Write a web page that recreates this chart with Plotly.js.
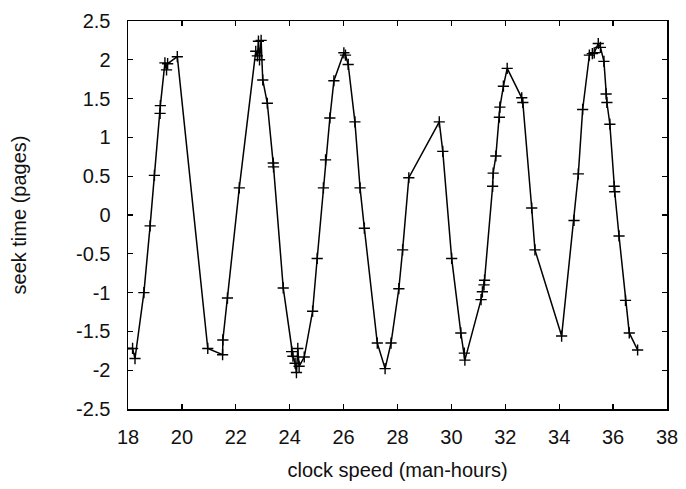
<!DOCTYPE html>
<html>
<head>
<meta charset="utf-8">
<script src="https://cdn.plot.ly/plotly-3.0.1.min.js"></script>
<style>html,body{margin:0;padding:0;background:#fff}#chart{width:686px;height:489px}</style>
</head>
<body>
<div id="chart"></div>
<script>
const xValues = [17.97, 18.17, 18.26, 18.59, 18.82, 18.98, 19.19, 19.2, 19.37, 19.43, 19.47, 19.83,
  20.96, 21.51, 21.52, 21.69, 22.13, 22.74, 22.80, 22.84, 22.88, 22.94, 23.0, 23.17, 23.39, 23.40,
  23.76, 24.07, 24.12, 24.20, 24.25, 24.30, 24.35, 24.54, 24.85, 25.02, 25.25, 25.33, 25.49, 25.64,
  26.01, 26.07, 26.17, 26.42, 26.61, 26.77, 27.25, 27.54, 27.76, 28.05, 28.19, 28.42, 29.55, 29.68,
  30.01, 30.35, 30.48, 30.50, 31.10, 31.15, 31.21, 31.23, 31.53, 31.55, 31.65, 31.78, 31.80, 31.93,
  32.07, 32.61, 32.65, 32.98, 33.10, 34.09, 34.55, 34.71, 34.87, 35.12, 35.23, 35.30, 35.45, 35.53,
  35.66, 35.74, 35.77, 35.88, 36.04, 36.06, 36.22, 36.46, 36.60, 36.91];
const yValues = [-1.72, -1.72, -1.85, -1.0, -0.14, 0.51, 1.31, 1.41, 1.96, 1.87, 1.95, 2.04,
  -1.72, -1.80, -1.61, -1.07, 0.35, 2.11, 2.05, 2.24, 2.0, 2.25, 1.74, 1.44, 0.67, 0.62,
  -0.94, -1.76, -1.82, -1.91, -2.03, -1.72, -1.95, -1.83, -1.24, -0.56, 0.35, 0.71, 1.25, 1.73,
  2.09, 2.06, 1.94, 1.20, 0.35, -0.17, -1.65, -1.98, -1.65, -0.95, -0.45, 0.48, 1.20, 0.82,
  -0.56, -1.52, -1.78, -1.87, -1.09, -0.99, -0.90, -0.84, 0.37, 0.54, 0.76, 1.26, 1.39, 1.66,
  1.89, 1.51, 1.45, 0.09, -0.45, -1.56, -0.07, 0.53, 1.36, 2.06, 2.08, 2.09, 2.21, 2.16,
  1.98, 1.56, 1.45, 1.17, 0.37, 0.30, -0.27, -1.10, -1.52, -1.74];
const xTicks = [18, 20, 22, 24, 26, 28, 30, 32, 34, 36, 38];
const yTicks = [-2.5, -2, -1.5, -1, -0.5, 0, 0.5, 1, 1.5, 2, 2.5];
const xTitle = 'clock speed (man-hours)';
const yTitle = 'seek time (pages)';

const font = {family: 'Liberation Sans, Arial, sans-serif', size: 20, color: '#111'};
const axisCommon = {
  showgrid: false, zeroline: false, showline: true, linecolor: '#000', linewidth: 1.5,
  mirror: 'ticks', ticks: 'inside', ticklen: 5, tickwidth: 1.2, tickcolor: '#000',
  tickfont: font, tickmode: 'array'
};
const data = [{
  x: xValues, y: yValues, type: 'scatter', mode: 'lines+markers',
  line: {color: '#000', width: 1.5},
  marker: {symbol: 'cross-thin', size: 8, color: '#000', line: {color: '#000', width: 1.4}},
  showlegend: false, hoverinfo: 'none'
}];
const layout = {
  width: 686, height: 489,
  margin: {l: 128, r: 19, t: 21, b: 80},
  paper_bgcolor: '#fff', plot_bgcolor: '#fff',
  xaxis: Object.assign({}, axisCommon, {
    range: [18, 38], tickvals: xTicks, ticktext: xTicks.map(String),
    ticklabelstandoff: 9,
    title: {text: xTitle, font: font, standoff: 16}
  }),
  yaxis: Object.assign({}, axisCommon, {
    range: [-2.5, 2.5], tickvals: yTicks, ticktext: yTicks.map(String),
    ticklabelstandoff: 12,
    title: {text: yTitle, font: font, standoff: 44}
  })
};
Plotly.newPlot('chart', data, layout, {staticPlot: true, displayModeBar: false});
</script>
</body>
</html>
